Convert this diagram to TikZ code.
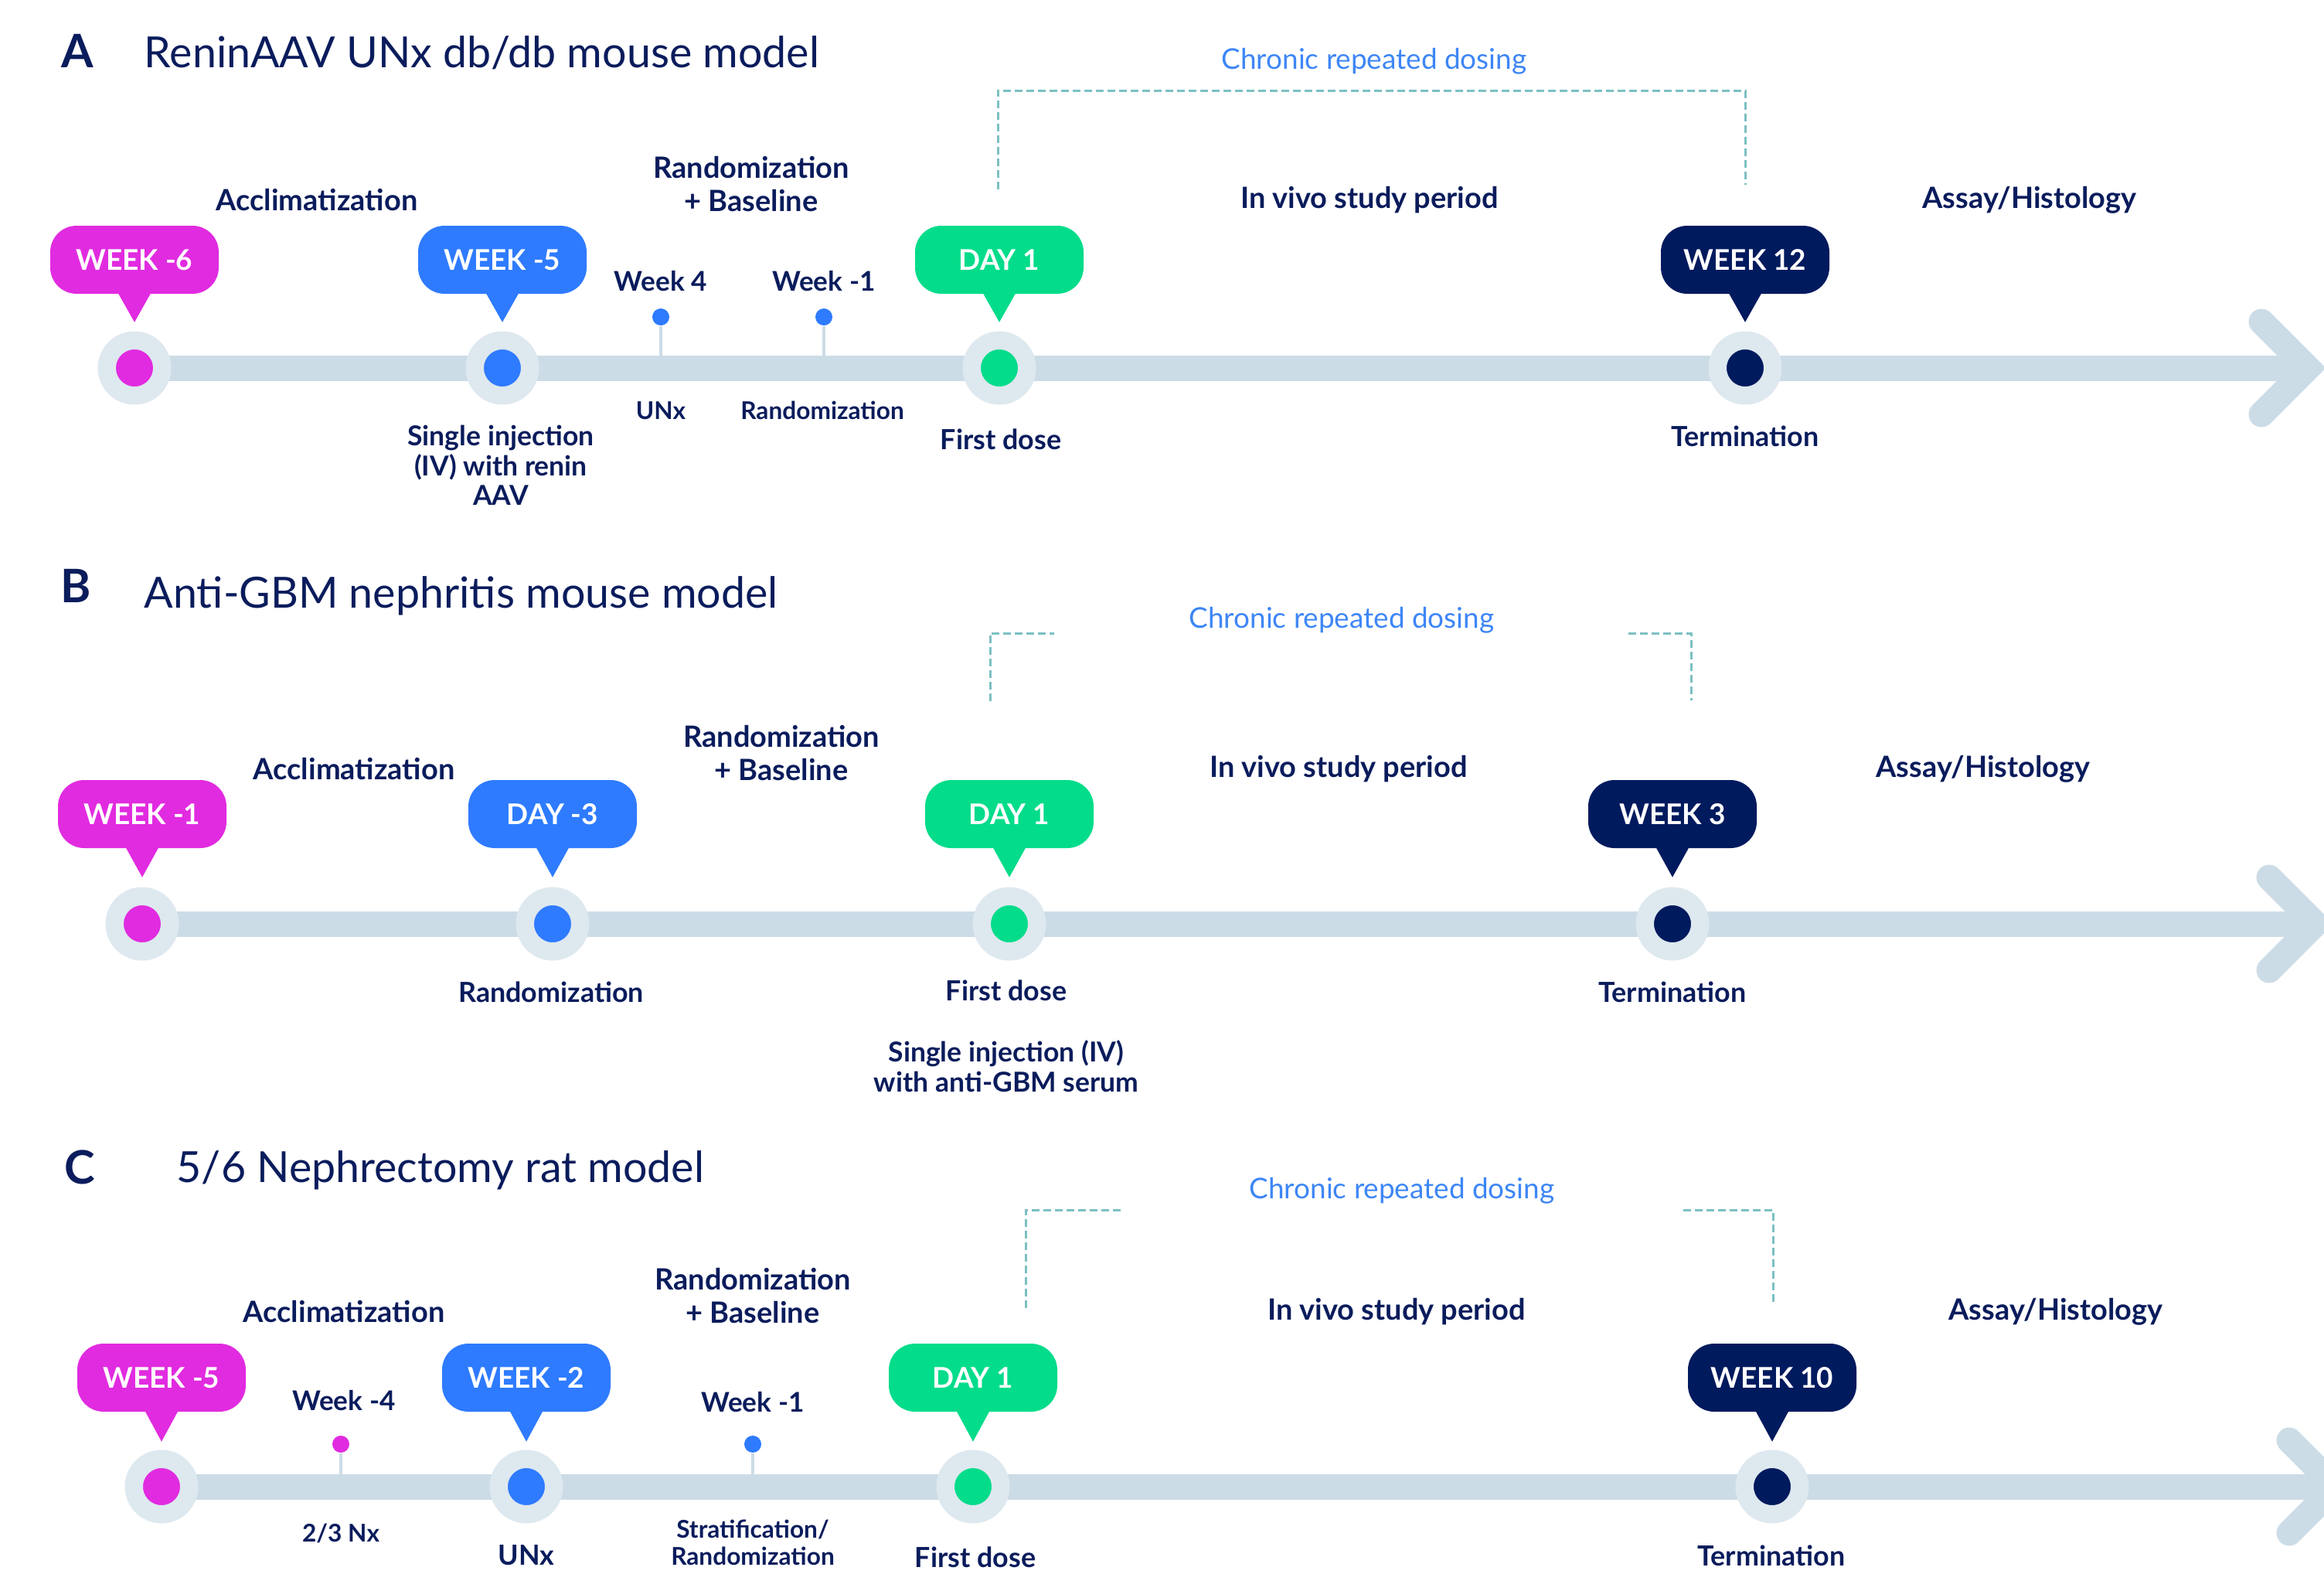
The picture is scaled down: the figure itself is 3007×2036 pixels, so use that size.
\documentclass[tikz,border=0pt]{standalone}
\usepackage{fontspec}
\setmainfont{Lato}
\usetikzlibrary{backgrounds}
\definecolor{navy}{HTML}{0A1C5C}
\definecolor{mag}{HTML}{E12BE0}
\definecolor{blu}{HTML}{2E7BFF}
\definecolor{grn}{HTML}{03DC8A}
\definecolor{dkb}{HTML}{001A5E}
\definecolor{barc}{HTML}{CCDCE6}
\definecolor{ringc}{HTML}{DEE8EF}
\definecolor{dashc}{HTML}{7CC0C2}
\definecolor{chron}{HTML}{3D86F6}
\tikzset{
	bub/.style={fill=#1,text=white,rounded corners=3.4mm,minimum width=21.8mm,minimum height=8.8mm,inner sep=0pt,font=\fontsize{10.5}{12}\selectfont\bfseries},
	ring/.style={circle,draw=ringc,line width=2.35mm,fill=#1,minimum size=7.15mm,inner sep=0pt},
	pdot/.style={circle,fill=#1,minimum size=2.2mm,inner sep=0pt},
	bar/.style={barc,line width=3.3mm},
	chev/.style={barc,line width=3.3mm,line cap=round,line join=miter},
	stem/.style={barc,line width=0.35mm},
	brk/.style={dashc,line width=0.3mm,dash pattern=on 1mm off 0.5mm},
	lbl/.style={text=navy,align=center,inner sep=0pt,font=\fontsize{10.8}{12}\selectfont\bfseries},
	blbl/.style={lbl,font=\fontsize{10.2}{12}\selectfont\bfseries},
	ilbl/.style={lbl,font=\fontsize{10.1}{11}\selectfont\bfseries},
	wlbl/.style={lbl,font=\fontsize{10}{12}\selectfont\bfseries},
	slbl/.style={lbl,font=\fontsize{9}{10}\selectfont\bfseries},
	chr/.style={text=chron,inner sep=0pt,font=\fontsize{10.5}{12}\selectfont},
	ttl/.style={text=navy,inner sep=0pt,anchor=base west,font=\fontsize{15.8}{18}\selectfont},
	plet/.style={text=navy,inner sep=0pt,anchor=base,font=\fontsize{17}{20}\selectfont\bfseries}
}
\begin{document}
\begin{tikzpicture}[x=0.1mm,y=-0.1mm]
	\useasboundingbox (0,0) rectangle (3007,2036);
	% A
	\node[plet] (la) at (100,87) {A};
	\node[ttl] (ta) at (186,87) {ReninAAV UNx db/db mouse model};
	\node[chr] (ca) at (1778,79) {Chronic repeated dosing};
	\draw[brk] (1291,245) |- (2258,117) -- (2258,239);
	\foreach \n/\x/\c/\t in {aa/174/mag/WEEK -6,ab/650/blu/WEEK -5,ac/1293/grn/DAY 1,ad/2258/dkb/WEEK 12}{
		\node[ring=\c] (\n) at (\x,476) {};
		\node[bub=\c] (\n-b) at (\x,336) {\t};
		\fill[\c] ([xshift=-2.6mm,yshift=1mm]\n-b.south) -- ([xshift=2.6mm,yshift=1mm]\n-b.south) -- ([yshift=-3.6mm]\n-b.south) -- cycle;
	}
	\node[pdot=blu] (ap1) at (855,410) {};
	\node[pdot=blu] (ap2) at (1066,410) {};
	\node[wlbl] (aw1) at (855,364) {Week 4};
	\node[wlbl] (aw2) at (1066,364) {Week -1};
	\node[slbl] (au1) at (855,531) {UNx};
	\node[slbl] (au2) at (1064,531) {Randomization};
	\node[ilbl] (ainj) at (648,602) {Single injection\\(IV) with renin\\AAV};
	\node[blbl] (afd) at (1295,568) {First dose};
	\node[blbl] (aterm) at (2258,564) {Termination};
	\node[lbl] (a1) at (410,259) {Acclimatization};
	\node[lbl] (a2) at (972,238) {Randomization\\+ Baseline};
	\node[lbl] (a3) at (1772,259) {In vivo study period};
	\node[lbl] (a4) at (2626,259) {Assay/Histology};
	\coordinate (atip) at (2986,476);
	\begin{scope}[on background layer]
		\draw[bar] (aa.center) -- (atip);
		\draw[chev] ([shift={(-60,-60)}]atip) -- (atip) -- ([shift={(-60,60)}]atip);
		\foreach \p in {ap1,ap2} \draw[stem] (\p) -- (\p |- aa.center);
	\end{scope}
	% B
	\node[plet] (lb) at (98,779) {B};
	\node[ttl] (tb) at (186,786) {Anti-GBM nephritis mouse model};
	\node[chr] (cb) at (1736,802) {Chronic repeated dosing};
	\draw[brk] (1281,907) |- (1364,819);
	\draw[brk] (2107,819) -| (2188,906);
	\foreach \n/\x/\c/\t in {ba/184/mag/WEEK -1,bb/715/blu/DAY -3,bc/1306/grn/DAY 1,bd/2164/dkb/WEEK 3}{
		\node[ring=\c] (\n) at (\x,1195) {};
		\node[bub=\c] (\n-b) at (\x,1053) {\t};
		\fill[\c] ([xshift=-2.6mm,yshift=1mm]\n-b.south) -- ([xshift=2.6mm,yshift=1mm]\n-b.south) -- ([yshift=-3.7mm]\n-b.south) -- cycle;
	}
	\node[blbl] (brnd) at (713,1283) {Randomization};
	\node[blbl] (bfd) at (1302,1281) {First dose};
	\node[blbl] (bterm) at (2164,1283) {Termination};
	\node[ilbl] (binj) at (1302,1379) {Single injection (IV)\\with anti-GBM serum};
	\node[lbl] (b1) at (458,995) {Acclimatization};
	\node[lbl] (b2) at (1011,974) {Randomization\\+ Baseline};
	\node[lbl] (b3) at (1732,995) {In vivo study period};
	\node[lbl] (b4) at (2566,995) {Assay/Histology};
	\coordinate (btip) at (2996,1195);
	\begin{scope}[on background layer]
		\draw[bar] (ba.center) -- (btip);
		\draw[chev] ([shift={(-60,-60)}]btip) -- (btip) -- ([shift={(-60,60)}]btip);
	\end{scope}
	% C
	\node[plet] (lc) at (103,1531) {C};
	\node[ttl] (tc) at (228,1529) {5/6 Nephrectomy rat model};
	\node[chr] (cc) at (1814,1540) {Chronic repeated dosing};
	\draw[brk] (1327,1692) |- (1454,1565);
	\draw[brk] (2178,1565) -| (2294,1688);
	\foreach \n/\x/\c/\t in {ca/209/mag/WEEK -5,cb/681/blu/WEEK -2,cc/1259/grn/DAY 1,cd/2293/dkb/WEEK 10}{
		\node[ring=\c] (\n) at (\x,1923) {};
		\node[bub=\c] (\n-b) at (\x,1782) {\t};
		\fill[\c] ([xshift=-2.6mm,yshift=1mm]\n-b.south) -- ([xshift=2.6mm,yshift=1mm]\n-b.south) -- ([yshift=-3.8mm]\n-b.south) -- cycle;
	}
	\node[pdot=mag] (cp1) at (441,1868) {};
	\node[pdot=blu] (cp2) at (974,1868) {};
	\node[wlbl] (cw1) at (445,1812) {Week -4};
	\node[wlbl] (cw2) at (974,1814) {Week -1};
	\node[slbl] (cn1) at (441,1983) {2/3 Nx};
	\node[blbl] (cunx) at (681,2012) {UNx};
	\node[slbl] (cstr) at (974,1995) {Stratification/\\Randomization};
	\node[blbl] (cfd) at (1262,2014) {First dose};
	\node[blbl] (cterm) at (2292,2012) {Termination};
	\node[lbl] (c1) at (445,1697) {Acclimatization};
	\node[lbl] (c2) at (974,1676) {Randomization\\+ Baseline};
	\node[lbl] (c3) at (1807,1697) {In vivo study period};
	\node[lbl] (c4) at (2660,1697) {Assay/Histology};
	\coordinate (ctip) at (3022,1923);
	\begin{scope}[on background layer]
		\draw[bar] (ca.center) -- (ctip);
		\draw[chev] ([shift={(-60,-60)}]ctip) -- (ctip) -- ([shift={(-60,60)}]ctip);
		\foreach \p in {cp1,cp2} \draw[stem] (\p) -- (\p |- ca.center);
	\end{scope}
\end{tikzpicture}
\end{document}
